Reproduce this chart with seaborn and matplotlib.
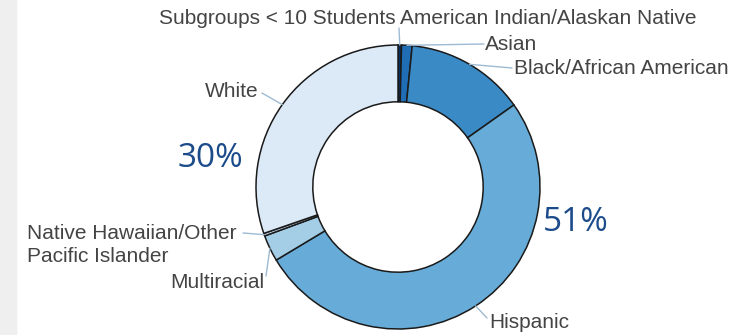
import matplotlib
matplotlib.use("Agg")
import matplotlib.pyplot as plt
import numpy as np
import seaborn as sns
from matplotlib.patches import Rectangle

# Student enrollment share by subgroup (clockwise from 12 o'clock)
groups = ["Subgroups < 10 Students", "American Indian/Alaskan Native", "Asian",
          "Black/African American", "Hispanic", "Multiracial",
          "Native Hawaiian/Other\nPacific Islander", "White"]
shares = [0.0, 0.4, 1.2, 13.6, 51.2, 3.0, 0.3, 30.3]
colors = ["#08306b", "#08306b", "#1f6db5", "#3a8ac6", "#67acd8",
          "#a4cde6", "#c6dbef", "#dce9f6"]
pct_labels = {"White": "30%", "Hispanic": "51%"}

W, H = 746, 335
CX, CY, R = 398, 187, 142  # donut centre / radius in pixels


def px(x, y):
    """pixel (from top-left) -> data coords"""
    return (x - CX) / R, (CY - y) / R


sns.set_theme(style="white")
plt.rcParams["font.family"] = ["Liberation Sans", "DejaVu Sans"]

fig = plt.figure(figsize=(W / 100, H / 100), dpi=100)
fig.patches.append(Rectangle((0, 0), 16 / W, 1, transform=fig.transFigure,
                             color="#efefef", zorder=0))
ax = fig.add_axes([0, 0, 1, 1])

wedges, _ = ax.pie(shares, colors=colors, startangle=90, counterclock=False,
                   radius=1.0,
                   wedgeprops=dict(width=0.4, edgecolor="#1a1a1a", linewidth=1.1))

# pie() resets limits and aspect, so fix them afterwards
ax.set_aspect("auto")
ax.set_xlim(-CX / R, (W - CX) / R)
ax.set_ylim(-(H - CY) / R, CY / R)
ax.axis("off")

# label text positions (pixels) + alignment
label_pos = {
    "Subgroups < 10 Students": (396, 19, "right"),
    "American Indian/Alaskan Native": (400, 19, "left"),
    "Asian": (485, 44, "left"),
    "Black/African American": (514, 68, "left"),
    "Hispanic": (489, 323, "left"),
    "Multiracial": (264, 282, "right"),
    "Native Hawaiian/Other\nPacific Islander": (27, 245, "left"),
    "White": (259, 91, "right"),
}
leader_end = {
    "American Indian/Alaskan Native": (399, 28),
    "Asian": (484, 44),
    "Black/African American": (512, 68),
    "Hispanic": (487, 318),
    "Multiracial": (266, 276),
    "Native Hawaiian/Other\nPacific Islander": (243, 233),
    "White": (262, 93),
}

for w, g in zip(wedges, groups):
    ang = np.deg2rad((w.theta1 + w.theta2) / 2)
    x0, y0 = np.cos(ang), np.sin(ang)
    if g in leader_end:
        x1, y1 = px(*leader_end[g])
        ax.plot([x0, x1], [y0, y1], color="#9dbad3", lw=1.0, zorder=1)
    tx, ty, ha = label_pos[g]
    ax.text(*px(tx, ty), g, ha=ha, va="center", fontsize=15,
            color="#444444", linespacing=1.3)

ax.text(*px(210, 158), pct_labels["White"], ha="center", va="center",
        fontsize=24, color="#1b4b8a", family=["Open Sans", "DejaVu Sans"])
ax.text(*px(576, 222), pct_labels["Hispanic"], ha="center", va="center",
        fontsize=24, color="#1b4b8a", family=["Open Sans", "DejaVu Sans"])

fig.savefig("out.png", dpi=100)
